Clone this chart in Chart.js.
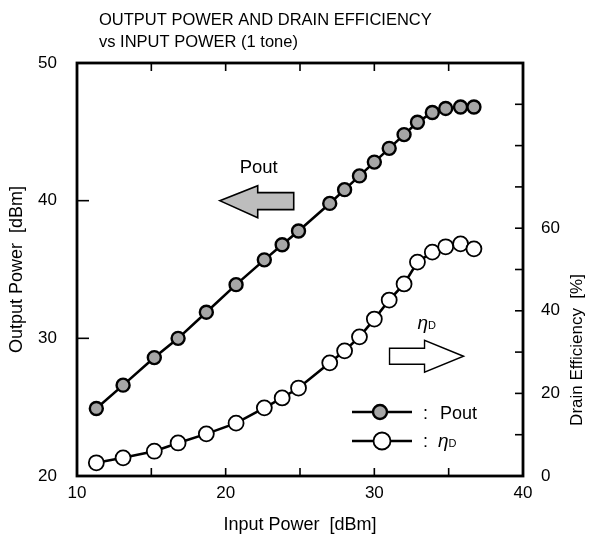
<!DOCTYPE html>
<html>
<head>
    <meta charset="utf-8">
    <title>Output Power and Drain Efficiency</title>
    <script src="https://cdn.jsdelivr.net/npm/chart.js"></script>
    <style>
        html, body { margin: 0; padding: 0; background: #ffffff; }
        #wrap { width: 590px; height: 547px; }
    </style>
</head>
<body>
<div id="wrap"><canvas id="chart" width="590" height="547"></canvas></div>
<script>
    // values
    var inputPower = [11.3, 13.1, 15.2, 16.8, 18.7, 20.7, 22.6, 23.8, 24.9, 27.0, 28.0, 29.0, 30.0, 31.0, 32.0, 32.9, 33.9, 34.8, 35.8, 36.7];
    var outputPower = [24.9, 26.6, 28.6, 30.0, 31.9, 33.9, 35.7, 36.8, 37.8, 39.8, 40.8, 41.8, 42.8, 43.8, 44.8, 45.7, 46.4, 46.7, 46.8, 46.8];
    var drainEff = [3.2, 4.4, 6.0, 8.0, 10.2, 12.8, 16.5, 18.9, 21.3, 27.4, 30.3, 33.7, 38.0, 42.6, 46.5, 51.8, 54.2, 55.5, 56.2, 55.0];
    var xTicks = [10, 20, 30, 40];
    var leftTicks = [20, 30, 40, 50];
    var rightTicks = [0, 20, 40, 60];

    var FONT = '"Liberation Sans", Arial, Helvetica, sans-serif';
    var GREY = '#a6a6a6';

    function pts(xs, ys) {
        return xs.map(function (x, i) { return { x: x, y: ys[i] }; });
    }

    function drawEta(ctx, x, y) {
        ctx.save();
        ctx.fillStyle = '#000';
        ctx.textAlign = 'left';
        ctx.textBaseline = 'alphabetic';
        ctx.font = 'italic 19px ' + FONT;
        ctx.fillText('\u03B7', x, y);
        var w = ctx.measureText('\u03B7').width;
        ctx.font = '11px ' + FONT;
        ctx.fillText('D', x + w, y);
        ctx.restore();
    }

    // frame, inward ticks, arrows, legend, titles
    var decor = {
        id: 'decor',
        afterDraw: function (chart) {
            var ctx = chart.ctx;
            var a = chart.chartArea;
            var sx = chart.scales.x, sy = chart.scales.y, sy2 = chart.scales.y2;
            ctx.save();
            ctx.strokeStyle = '#000';
            ctx.lineWidth = 1.6;
            sx.ticks.forEach(function (t) {
                var px = sx.getPixelForValue(t.value);
                ctx.beginPath();
                ctx.moveTo(px, a.bottom); ctx.lineTo(px, a.bottom - 8);
                ctx.moveTo(px, a.top); ctx.lineTo(px, a.top + 8);
                ctx.stroke();
            });
            sy.ticks.forEach(function (t) {
                var py = sy.getPixelForValue(t.value);
                ctx.beginPath();
                ctx.moveTo(a.left, py); ctx.lineTo(a.left + 12, py);
                ctx.stroke();
            });
            sy2.ticks.forEach(function (t) {
                var py = sy2.getPixelForValue(t.value);
                ctx.beginPath();
                ctx.moveTo(a.right, py); ctx.lineTo(a.right - 8, py);
                ctx.stroke();
            });
            ctx.lineWidth = 2.8;
            ctx.strokeRect(a.left, a.top, a.right - a.left, a.bottom - a.top);

            // title
            ctx.fillStyle = '#000';
            ctx.textAlign = 'left';
            ctx.textBaseline = 'alphabetic';
            ctx.font = '16.5px ' + FONT;
            ctx.fillText('OUTPUT POWER AND DRAIN EFFICIENCY', 99, 25);
            ctx.fillText('vs INPUT POWER (1 tone)', 99, 47);

            // right axis title, reads bottom to top
            ctx.save();
            ctx.translate(577, 350);
            ctx.rotate(-Math.PI / 2);
            ctx.textAlign = 'center';
            ctx.textBaseline = 'middle';
            ctx.font = '17px ' + FONT;
            ctx.fillText('Drain Efficiency  [%]', 0, 0);
            ctx.restore();

            // Pout arrow (points left)
            var tx = sx.getPixelForValue(19.6), ty = sy.getPixelForValue(40);
            ctx.beginPath();
            ctx.moveTo(tx, ty);
            ctx.lineTo(tx + 38, ty - 15);
            ctx.lineTo(tx + 38, ty - 8);
            ctx.lineTo(tx + 74, ty - 8);
            ctx.lineTo(tx + 74, ty + 9);
            ctx.lineTo(tx + 38, ty + 9);
            ctx.lineTo(tx + 38, ty + 17);
            ctx.closePath();
            ctx.fillStyle = '#bdbdbd';
            ctx.fill();
            ctx.lineWidth = 1.6;
            ctx.stroke();
            ctx.fillStyle = '#000';
            ctx.textAlign = 'center';
            ctx.textBaseline = 'middle';
            ctx.font = '18.5px ' + FONT;
            ctx.fillText('Pout', tx + 39, ty - 33);

            // efficiency arrow (points right)
            var ex = sx.getPixelForValue(36.0), ey = sy2.getPixelForValue(29);
            ctx.beginPath();
            ctx.moveTo(ex, ey);
            ctx.lineTo(ex - 39, ey - 16);
            ctx.lineTo(ex - 39, ey - 8);
            ctx.lineTo(ex - 74, ey - 8);
            ctx.lineTo(ex - 74, ey + 8);
            ctx.lineTo(ex - 39, ey + 8);
            ctx.lineTo(ex - 39, ey + 16);
            ctx.closePath();
            ctx.fillStyle = '#fff';
            ctx.fill();
            ctx.lineWidth = 1.4;
            ctx.stroke();
            drawEta(ctx, ex - 46, ey - 27);

            // legend
            var lx = 352, ly1 = 412, ly2 = 441;
            ctx.lineWidth = 2.6;
            ctx.beginPath();
            ctx.moveTo(lx, ly1); ctx.lineTo(lx + 60, ly1);
            ctx.moveTo(lx, ly2); ctx.lineTo(lx + 60, ly2);
            ctx.stroke();
            ctx.beginPath();
            ctx.arc(lx + 28, ly1, 7, 0, Math.PI * 2);
            ctx.fillStyle = GREY; ctx.fill();
            ctx.lineWidth = 2.4; ctx.stroke();
            ctx.beginPath();
            ctx.arc(lx + 30, ly2, 8.5, 0, Math.PI * 2);
            ctx.fillStyle = '#fff'; ctx.fill();
            ctx.lineWidth = 1.8; ctx.stroke();
            ctx.fillStyle = '#000';
            ctx.textAlign = 'left';
            ctx.textBaseline = 'alphabetic';
            ctx.font = '18px ' + FONT;
            ctx.fillText(':', lx + 71, ly1 + 7);
            ctx.fillText('Pout', lx + 88, ly1 + 7);
            ctx.fillText(':', lx + 71, ly2 + 6);
            drawEta(ctx, lx + 86, ly2 + 6);

            // bottom tick labels from the x scale
            ctx.font = '17px ' + FONT;
            ctx.textAlign = 'center';
            ctx.textBaseline = 'top';
            xTicks.forEach(function (v) {
                ctx.fillText(String(v), sx.getPixelForValue(v), a.bottom + 9);
            });
            ctx.restore();
        }
    };

    var ctx = document.getElementById('chart').getContext('2d');
    var chart = new Chart(ctx, {
        type: 'scatter',
        data: {
            datasets: [{
                label: 'Pout',
                data: pts(inputPower, outputPower),
                yAxisID: 'y',
                showLine: true,
                borderColor: '#000',
                borderWidth: 2.6,
                pointRadius: 6.5,
                pointBorderWidth: 2.4,
                pointBackgroundColor: GREY,
                pointBorderColor: '#000'
            }, {
                label: '\u03B7D',
                data: pts(inputPower, drainEff),
                yAxisID: 'y2',
                showLine: true,
                borderColor: '#000',
                borderWidth: 2.6,
                pointRadius: 7.5,
                pointBorderWidth: 1.8,
                pointBackgroundColor: '#fff',
                pointBorderColor: '#000'
            }]
        },
        options: {
            responsive: false,
            animation: false,
            layout: { padding: { top: 63, left: 0, right: 0, bottom: 0 } },
            plugins: {
                legend: { display: false },
                tooltip: { enabled: false },
                title: { display: false }
            },
            scales: {
                x: {
                    type: 'linear',
                    min: 10, max: 40,
                    afterBuildTicks: function (s) {
                        var t = [];
                        for (var v = 15; v < 40; v += 5) t.push({ value: v });
                        s.ticks = t;
                    },
                    grid: { display: false },
                    border: { display: false },
                    ticks: { display: false },
                    title: {
                        display: true, text: 'Input Power  [dBm]', color: '#000',
                        font: { family: FONT, size: 18 }, padding: { top: 0, bottom: 11 }
                    },
                    afterFit: function (s) { s.height = 71; }
                },
                y: {
                    position: 'left',
                    min: 20, max: 50,
                    ticks: {
                        stepSize: 10, color: '#000', padding: 12, font: { family: FONT, size: 17 },
                        callback: function (v) { return leftTicks.indexOf(v) >= 0 ? String(v) : ''; }
                    },
                    grid: { display: false },
                    border: { display: false },
                    title: {
                        display: true, text: 'Output Power  [dBm]', color: '#000',
                        font: { family: FONT, size: 18 }, padding: { top: 6, bottom: 0 }
                    },
                    afterFit: function (s) { s.width = 77; }
                },
                y2: {
                    position: 'right',
                    min: 0, max: 100,
                    ticks: {
                        stepSize: 10, color: '#000', padding: 10, font: { family: FONT, size: 17 },
                        callback: function (v) { return rightTicks.indexOf(v) >= 0 ? String(v) : ''; }
                    },
                    grid: { display: false },
                    border: { display: false },
                    afterFit: function (s) { s.width = 67; }
                }
            }
        },
        plugins: [decor]
    });
</script>
</body>
</html>
